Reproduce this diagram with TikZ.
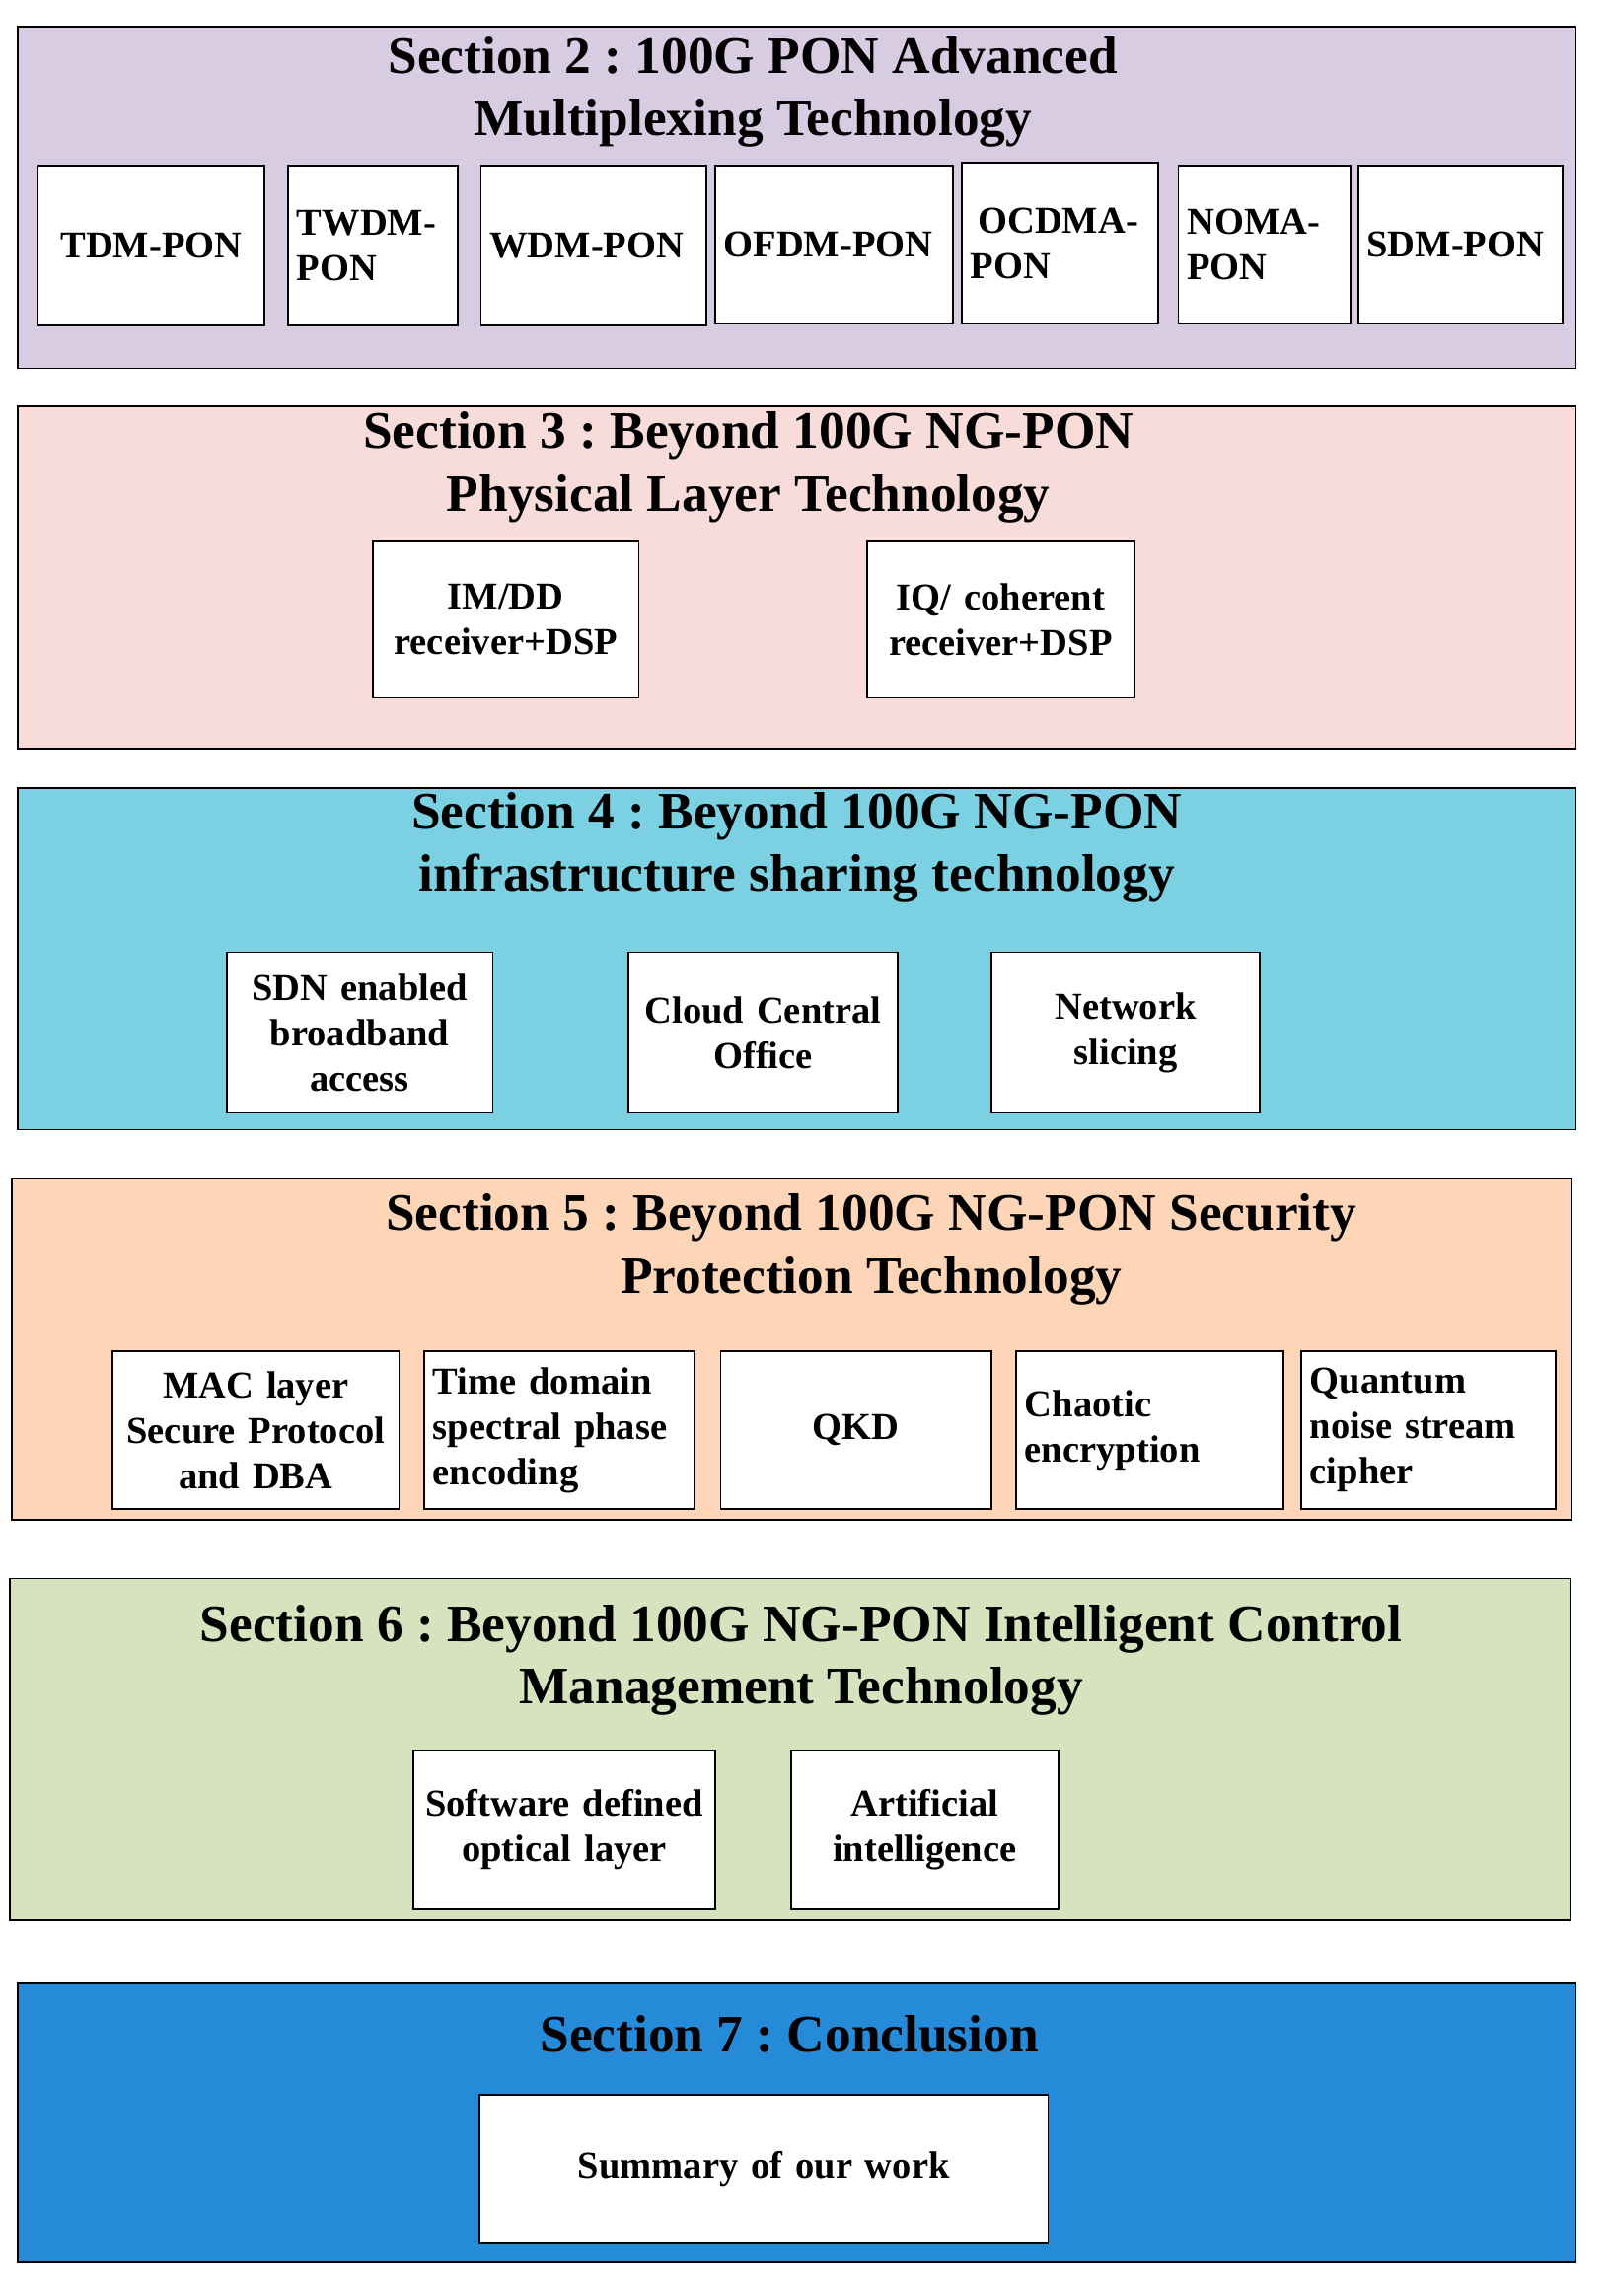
\documentclass[tikz,border=0pt]{standalone}
\usepackage{fontspec}
\setmainfont{Liberation Serif}
\frenchspacing
\definecolor{secpurple}{HTML}{D8CCE2}
\definecolor{secpink}{HTML}{F8DCDA}
\definecolor{seccyan}{HTML}{7BD1E1}
\definecolor{secpeach}{HTML}{FED5B7}
\definecolor{secgreen}{HTML}{D7E3BE}
\definecolor{secblue}{HTML}{258AD7}
\begin{document}
\begin{tikzpicture}[
    x = 1pt,
    y = -1pt,
    sect/.style = {rectangle, draw=black, line width=1.2pt, inner sep=0pt},
    head/.style = {font=\fontsize{36}{43}\selectfont\bfseries, align=center, inner sep=0pt},
    item/.style = {rectangle, draw=black, fill=white, line width=1.2pt, inner xsep=6pt,
              inner ysep=0pt, font=\fontsize{26}{31}\selectfont\bfseries},
    ]
\useasboundingbox (0,0) rectangle (1100,1571);

% Section 2
\node[sect, fill=secpurple, minimum width=1066pt, minimum height=234pt] (sec2) at (545,135){};
\node[head] (sec2_title) at (515,63){Section 2 : 100G PON Advanced\\Multiplexing Technology};
\node[item, text width=143pt, minimum height=109pt, align=center] (tdm) at (103.5,168){TDM-PON};
\node[item, text width=104pt, minimum height=109pt, align=left] (twdm) at (255,168){TWDM-\\PON};
\node[item, text width=142pt, minimum height=109pt, align=left] (wdm) at (406,168){WDM-PON};
\node[item, text width=151pt, minimum height=108pt, align=left] (ofdm) at (570.5,167.5){OFDM-PON};
\node[item, text width=122pt, minimum height=110pt, align=left] (ocdma) at (725,166.5){\hspace*{5pt}OCDMA-\\PON};
\node[item, text width=106pt, minimum height=108pt, align=left] (noma) at (865,167.5){NOMA-\\PON};
\node[item, text width=128pt, minimum height=108pt, align=left] (sdm) at (999,167.5){SDM-PON};

% Section 3
\node[sect, fill=secpink, minimum width=1066pt, minimum height=234pt] (sec3) at (545,395){};
\node[head] (sec3_title) at (512,320){Section 3 : Beyond 100G NG-PON\\Physical Layer Technology};
\node[item, text width=170pt, minimum height=107pt, align=center] (imdd) at (346,424){IM/DD\\receiver+DSP};
\node[item, text width=171pt, minimum height=107pt, align=center] (iq) at (684.5,424){IQ/ coherent\\receiver+DSP};

% Section 4
\node[sect, fill=seccyan, minimum width=1066pt, minimum height=234pt] (sec4) at (545,656){};
\node[head] (sec4_title) at (545,580){Section 4 : Beyond 100G NG-PON\\infrastructure sharing technology};
\node[item, text width=170pt, minimum height=110pt, align=center] (sdn) at (246,706.5){SDN enabled\\broadband\\access};
\node[item, text width=172pt, minimum height=110pt, align=center] (cco) at (522,706.5){Cloud Central\\Office};
\node[item, text width=172pt, minimum height=110pt, align=center] (slicing) at (770,706.5){Network\\slicing};

% Section 5
\node[sect, fill=secpeach, minimum width=1067pt, minimum height=234pt] (sec5) at (541.5,923){};
\node[head] (sec5_title) at (596,855){Section 5 : Beyond 100G NG-PON Security\\Protection Technology};
\node[item, text width=184pt, minimum height=108pt, align=center] (mac) at (175,978.5){MAC layer\\Secure Protocol\\and DBA};
\node[item, text width=173pt, minimum height=108pt, align=left] (tdspe) at (382.5,978.5){Time domain\\spectral phase\\encoding};
\node[item, text width=173pt, minimum height=108pt, align=center] (qkd) at (585.5,978.5){QKD};
\node[item, text width=171pt, minimum height=108pt, align=left] (chaos) at (786.5,978.5){Chaotic\\encryption};
\node[item, text width=162pt, minimum height=108pt, align=left] (qnsc) at (977,978.5){Quantum\\noise stream\\cipher};

% Section 6
\node[sect, fill=secgreen, minimum width=1067pt, minimum height=234pt] (sec6) at (540.5,1197){};
\node[head] (sec6_title) at (548,1136){Section 6 : Beyond 100G NG-PON Intelligent Control\\Management Technology};
\node[item, text width=194pt, minimum height=109pt, align=center] (sdol) at (386,1252){Software defined\\optical layer};
\node[item, text width=171pt, minimum height=109pt, align=center] (ai) at (632.5,1252){Artificial\\intelligence};

% Section 7
\node[sect, fill=secblue, minimum width=1066pt, minimum height=191pt] (sec7) at (545,1452.5){};
\node[head] (sec7_title) at (540,1392){Section 7 : Conclusion};
\node[item, text width=377pt, minimum height=101pt, align=center] (summary) at (522.5,1484){Summary of our work};

\end{tikzpicture}
\end{document}
